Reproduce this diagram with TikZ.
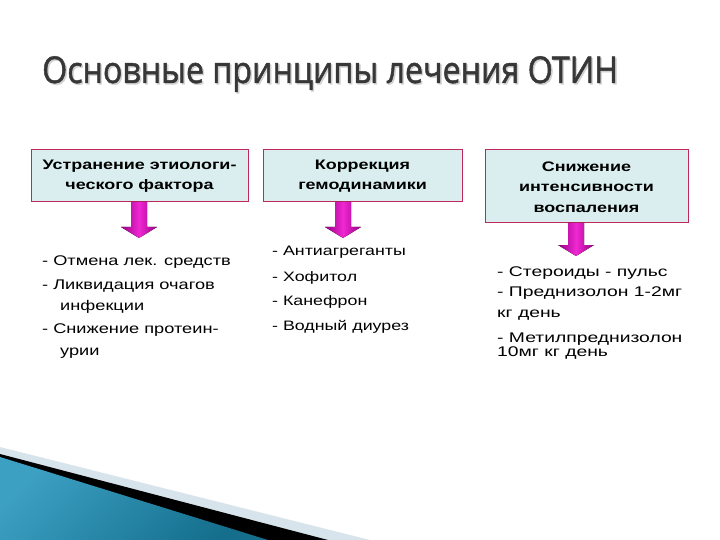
\documentclass[tikz,border=0pt]{standalone}
\usepackage{fontspec}
\setmainfont{Liberation Sans}
\newfontfamily\titlefont{Open Sans}[FakeStretch=0.87,FakeBold=1.3]
\newfontfamily\bodyfont{Liberation Sans}[FakeStretch=1.3]
\newfontfamily\widefont{Liberation Sans}[FakeStretch=1.38]
\definecolor{boxfill}{RGB}{218,238,240}
\definecolor{boxline}{RGB}{190,40,90}
\definecolor{arrowdark}{RGB}{150,0,130}
\definecolor{arrowlight}{RGB}{240,40,210}
\definecolor{titlegray}{RGB}{55,55,55}
\definecolor{teal1}{RGB}{20,110,140}
\definecolor{teal2}{RGB}{60,160,195}
\definecolor{bandlight}{RGB}{215,228,236}
\tikzset{
  hbox/.style={draw=boxline, line width=1pt, fill=boxfill},
  htext/.style={align=center, font=\bodyfont\bfseries\fontsize{13.8}{20.5}\selectfont, inner sep=0pt},
  ltext/.style={anchor=base west, font=\bodyfont\fontsize{14}{15}\selectfont, inner sep=0pt},
  mtext/.style={anchor=base west, font=\bodyfont\fontsize{13.7}{15}\selectfont, inner sep=0pt},
  rtext/.style={anchor=base west, font=\widefont\fontsize{14}{15}\selectfont, inner sep=0pt},
  downarrow/.style={left color=arrowdark, right color=arrowdark, middle color=arrowlight, draw=none}
}
\begin{document}
\begin{tikzpicture}[x=1pt,y=-1pt]
\useasboundingbox (0,0) rectangle (720,540);
% bottom-left decoration
\fill[bandlight] (0,447) -- (370,540) -- (0,540) -- cycle;
\fill[black] (0,454) -- (328,540) -- (0,540) -- cycle;
\shade[top color=teal2, bottom color=teal1, shading angle=45] (0,457) -- (268,540) -- (0,540) -- cycle;
% title
\node[anchor=base west, inner sep=0pt, text=black!18, font=\titlefont\fontsize{37}{40}\selectfont] at (43.5,84.5) {Основные принципы лечения ОТИН};
\node[anchor=base west, inner sep=0pt, text=titlegray, font=\titlefont\fontsize{37}{40}\selectfont] (title) at (42,83) {Основные принципы лечения ОТИН};
% boxes
\draw[hbox] (31,150) rectangle (248,202);
\node[htext] (h1) at (139.5,176) {Устранение этиологи-\\ческого фактора};
\draw[hbox] (263,150) rectangle (462,202);
\node[htext] (h2) at (362.5,176) {Коррекция\\гемодинамики};
\draw[hbox] (485,150) rectangle (688,223);
\node[htext] (h3) at (586.5,187) {Снижение\\интенсивности\\воспаления};
% arrows
\fill[downarrow] (131,202) -- (147,202) -- (147,227) -- (157,227) -- (139,238) -- (121,227) -- (131,227) -- cycle;
\fill[downarrow] (335,202) -- (351,202) -- (351,227) -- (361,227) -- (343,238) -- (325,227) -- (335,227) -- cycle;
\fill[downarrow] (568,223) -- (584,223) -- (584,245) -- (594,245) -- (576,256) -- (558,245) -- (568,245) -- cycle;
% lists
\node[ltext] (a1) at (42,265) {- Отмена лек. средств};
\node[ltext] (a2) at (42,289) {- Ликвидация очагов};
\node[ltext] (a3) at (60,310) {инфекции};
\node[ltext] (a4) at (42,333) {- Снижение протеин-};
\node[ltext] (a5) at (60,355) {урии};
\node[mtext] (b1) at (272,255) {- Антиагреганты};
\node[mtext] (b2) at (272,281) {- Хофитол};
\node[mtext] (b3) at (272,305) {- Канефрон};
\node[mtext] (b4) at (272,330) {- Водный диурез};
\node[rtext] (c1) at (497,276) {- Стероиды - пульс};
\node[rtext] (c2) at (497,296) {- Преднизолон 1-2мг};
\node[rtext] (c3) at (497,317) {кг день};
\node[rtext] (c4) at (497,342) {- Метилпреднизолон};
\node[rtext] (c5) at (497,356) {10мг кг день};
\end{tikzpicture}
\end{document}
